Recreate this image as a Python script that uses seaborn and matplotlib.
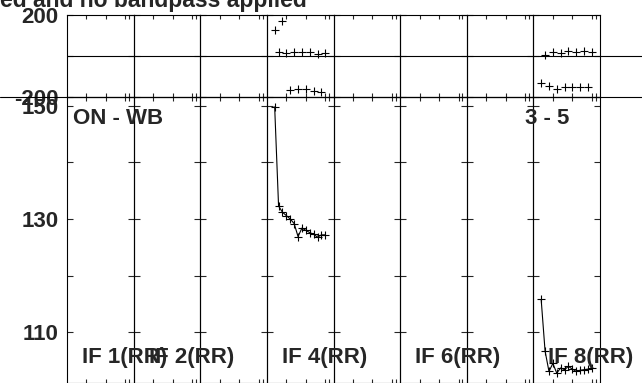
import numpy as np
import seaborn as sns
import matplotlib
matplotlib.use('Agg')
import matplotlib.pyplot as plt
from matplotlib.lines import Line2D

sns.set_style('white')
plt.rcParams['font.family'] = ['Liberation Sans', 'DejaVu Sans']
plt.rcParams['font.weight'] = 'bold'

# channels plotted in each IF panel
chans = [2, 3, 4, 5, 6, 7, 8, 9, 10, 11, 12, 13, 14, 15]

# IF 4 : phase (deg) and amplitude
if4_phase = [127, 21, 171, 13, -166, 20, -162, 21, -161, 18, -169, 8, -174, 13]
if4_amp = [149.8, 132.3, 131.2, 130.6, 130.0, 129.2, 126.9, 128.4, 128.0, 127.6, 127.3, 126.8, 127.2, 127.2]

# IF 8 : phase (deg) and amplitude
if8_phase = [-133, 5, -146, 21, -162, 16, -153, 24, -153, 18, -153, 26, -153, 18]
if8_amp = [115.8, 106.7, 103.1, 104.5, 102.8, 103.7, 103.4, 104.0, 103.5, 103.1, 103.3, 103.4, 103.5, 103.7]

panel_data = {3: (if4_phase, if4_amp), 7: (if8_phase, if8_amp)}
if_labels = {0: 'IF 1(RR)', 1: 'IF 2(RR)', 3: 'IF 4(RR)', 5: 'IF 6(RR)', 7: 'IF 8(RR)'}

phase_ticks = [-200, 0, 200]
phase_ticklabels = ['-200', '', '200']
amp_ticks = [110, 120, 130, 140, 150]
amp_ticklabels = ['110', '', '130', '', '150']
chan_ticks = [5, 10, 15, 16]

W, H = 642, 383
fig = plt.figure(figsize=(W / 100, H / 100), dpi=100)
left, right = 67 / W, 600 / W
top_t, top_b = 1 - 15 / H, 1 - 97 / H
bot_b = 0.0
gs = fig.add_gridspec(2, 8, left=left, right=right, top=top_t, bottom=bot_b,
                      height_ratios=[top_t - top_b, top_b - bot_b],
                      wspace=0, hspace=0)

fs = 16
for i in range(8):
    axp = fig.add_subplot(gs[0, i])
    axa = fig.add_subplot(gs[1, i])
    for ax in (axp, axa):
        ax.set_xlim(0, 17.1)
        ax.set_xticks(chan_ticks)
        ax.set_xticklabels([])
        ax.tick_params(axis='x', direction='in', top=True, bottom=True, length=3, width=0.8)
        ax.tick_params(axis='y', direction='in', left=True, right=True, length=4, width=0.8,
                       labelsize=fs, pad=6)
        for s in ax.spines.values():
            s.set_color('black')
            s.set_linewidth(0.8)
        ax.set_facecolor('none')
    axp.set_ylim(-200, 200)
    axp.set_yticks(phase_ticks)
    axa.set_ylim(101.05, 151.54)
    axa.set_yticks(amp_ticks)
    if i == 0:
        axp.set_yticklabels(phase_ticklabels)
        axa.set_yticklabels(amp_ticklabels)
    else:
        axp.set_yticklabels([])
        axa.set_yticklabels([])
    # zero phase line, the last one runs out past the frame
    if i == 7:
        axp.axhline(0, xmin=0, xmax=(W - 533) / 66.6, color='k', lw=0.8, clip_on=False)
    else:
        axp.axhline(0, color='k', lw=0.8)

    if i in panel_data:
        ph, am = panel_data[i]
        sns.scatterplot(x=chans, y=ph, ax=axp, marker='+', color='k', s=32, linewidth=0.8)
        sns.lineplot(x=chans, y=am, ax=axa, marker='+', color='k', markersize=6,
                     markeredgecolor='k', markeredgewidth=0.8, linewidth=0.8)
    axp.set_xlabel('')
    axp.set_ylabel('')
    axa.set_xlabel('')
    axa.set_ylabel('')

    if i in if_labels:
        fig.text(0.225, 0.07, if_labels[i], transform=axa.transAxes, fontsize=fs,
                 fontweight='bold', ha='left', va='baseline', zorder=5)
    if i == 0:
        fig.text(0.09, 0.905, 'ON - WB', transform=axa.transAxes, fontsize=fs,
                 fontweight='bold', ha='left', va='baseline', zorder=5)
    if i == 7:
        fig.text(-0.12, 0.905, '3 - 5', transform=axa.transAxes, fontsize=fs,
                 fontweight='bold', ha='left', va='baseline', zorder=5)

# line between the phase and amplitude rows spans the whole picture
fig.add_artist(Line2D([0, 1], [top_b, top_b], transform=fig.transFigure, color='k', lw=0.8))

fig.text(307 / W, 1 - 7 / H, 'ed and no bandpass applied', fontsize=16.5,
         fontweight='bold', ha='right', va='baseline')

fig.savefig('out.png', dpi=100)
